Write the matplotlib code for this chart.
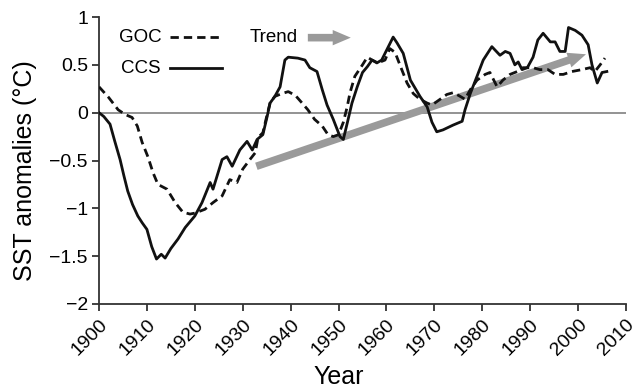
import matplotlib
matplotlib.use("Agg")
import matplotlib.pyplot as plt
from matplotlib.patches import FancyArrowPatch

plt.rcParams['font.family'] = ['Liberation Sans', 'DejaVu Sans']

# CCS (solid) anomaly record
ccs_years = [1900, 1901, 1902.3, 1903.3, 1904.4, 1905.2, 1906, 1907, 1908.1, 1909,
             1910, 1911, 1912, 1913, 1913.8, 1915, 1916.5, 1918, 1920, 1921.5,
             1923.2, 1923.8, 1925.7, 1926.7, 1927.8, 1929.4, 1930.9, 1932, 1933, 1934.2,
             1935.1, 1935.7, 1936.7, 1937.8, 1938.8, 1939.5, 1941.5, 1943, 1944, 1945.5,
             1946.6, 1947.6, 1948.9, 1950.3, 1951, 1952, 1952.8, 1953.9, 1955, 1956,
             1957, 1958, 1959, 1959.7, 1961.4, 1962.2, 1963.5, 1965, 1967, 1968.5,
             1969.5, 1970.5, 1971.8, 1973.9, 1975.8, 1976.4, 1977.5, 1978.9, 1980.2, 1982,
             1983.7, 1984.8, 1985.8, 1986.8, 1987.5, 1988.3, 1989.4, 1990.6, 1991.6, 1992.7,
             1994.2, 1995.2, 1996.2, 1997.3, 1998, 1999.4, 2000.8, 2002.1, 2002.9, 2004,
             2005, 2006]
ccs_vals = [0.0, -0.04, -0.12, -0.3, -0.49, -0.66, -0.82, -0.96, -1.08, -1.15,
            -1.22, -1.4, -1.53, -1.48, -1.52, -1.42, -1.32, -1.2, -1.08, -0.94,
            -0.73, -0.80, -0.49, -0.46, -0.56, -0.39, -0.30, -0.39, -0.28, -0.23,
            -0.04, 0.10, 0.17, 0.27, 0.55, 0.58, 0.57, 0.55, 0.47, 0.43,
            0.24, 0.08, -0.07, -0.25, -0.28, -0.07, 0.10, 0.27, 0.42, 0.48,
            0.55, 0.52, 0.55, 0.62, 0.79, 0.73, 0.62, 0.34, 0.17, 0.06,
            -0.10, -0.20, -0.18, -0.13, -0.09, 0.03, 0.20, 0.38, 0.55, 0.69,
            0.60, 0.64, 0.62, 0.50, 0.53, 0.45, 0.47, 0.58, 0.76, 0.83,
            0.74, 0.74, 0.64, 0.64, 0.89, 0.86, 0.81, 0.71, 0.50, 0.31,
            0.42, 0.43]

# GOC (dashed) anomaly record
goc_years = [1900, 1902, 1904, 1905.5, 1906.9, 1908, 1909, 1910.2, 1911.3, 1912.3,
             1914.2, 1915.9, 1917.5, 1919, 1920, 1922.1, 1923.8, 1925.7, 1927.3, 1928.8,
             1930, 1931.5, 1932.6, 1933.2, 1934.2, 1935, 1935.7, 1936.7, 1938.2, 1939.5,
             1941, 1942.4, 1943.6, 1945, 1946.6, 1947.8, 1948.9, 1950, 1951, 1951.8,
             1952.4, 1953.4, 1955, 1956, 1957, 1958.2, 1959.7, 1960.7, 1961.8, 1962.8,
             1964.3, 1965.6, 1967, 1968.5, 1969.5, 1971.2, 1972.6, 1974, 1975.4, 1976.4,
             1977.5, 1978.9, 1980.6, 1981.6, 1983.1, 1984.3, 1985.8, 1987.3, 1988.5, 1990.6,
             1992, 1993.7, 1995.2, 1996.9, 1998.7, 2000.8, 2002.5, 2003.5, 2004.6, 2005.6]
goc_vals = [0.27, 0.16, 0.03, -0.02, -0.05, -0.14, -0.31, -0.46, -0.63, -0.75,
            -0.80, -0.94, -1.04, -1.06, -1.05, -1.01, -0.94, -0.87, -0.70, -0.73,
            -0.59, -0.49, -0.42, -0.26, -0.21, -0.04, 0.10, 0.17, 0.20, 0.22,
            0.18, 0.10, 0.03, -0.07, -0.14, -0.23, -0.25, -0.23, -0.10, 0.06,
            0.21, 0.38, 0.50, 0.58, 0.55, 0.52, 0.55, 0.67, 0.63, 0.50,
            0.31, 0.20, 0.14, 0.10, 0.08, 0.14, 0.19, 0.21, 0.17, 0.14,
            0.24, 0.34, 0.40, 0.42, 0.27, 0.34, 0.40, 0.43, 0.47, 0.47,
            0.45, 0.45, 0.40, 0.40, 0.43, 0.45, 0.47, 0.43, 0.50, 0.57]

# trend arrow endpoints (year, anomaly)
trend_start = (1932.3, -0.57)
trend_end = (2002.2, 0.62)

xticks = list(range(1900, 2011, 10))
yticks = [-2, -1.5, -1, -0.5, 0, 0.5, 1]
ytick_labels = ['\u22122', '\u22121.5', '\u22121', '\u22120.5', '0', '0.5', '1']

grey = '#9a9a9a'
ink = '#111111'
arrow_style = 'simple,head_length=1.0,head_width=0.85,tail_width=0.42'

fig = plt.figure(figsize=(6.39, 3.90), dpi=100)
ax = fig.add_axes([99 / 639, 1 - 304 / 390, 527 / 639, 287 / 390])

ax.axhline(0, color='#8a8a8a', lw=1.3, zorder=1)

ax.add_patch(FancyArrowPatch(trend_start, trend_end, arrowstyle=arrow_style,
                             mutation_scale=13, color=grey, lw=0, zorder=2))

ax.plot(goc_years, goc_vals, color=ink, lw=2.0, dashes=(3.0, 1.8), zorder=3)
ax.plot(ccs_years, ccs_vals, color=ink, lw=2.0, zorder=4)

ax.set_xlim(1900, 2010)
ax.set_ylim(-2, 1)
ax.set_xticks(xticks)
ax.set_xticklabels([str(t) for t in xticks], rotation=45, ha='right',
                   va='top', rotation_mode='anchor')
ax.set_yticks(yticks)
ax.set_yticklabels(ytick_labels)
ax.tick_params(axis='both', labelsize=14, length=5, width=1.3,
               color='#333333', direction='out')
ax.tick_params(axis='x', pad=4)
ax.tick_params(axis='y', pad=3)
for s in ['top', 'right']:
    ax.spines[s].set_visible(False)
for s in ['left', 'bottom']:
    ax.spines[s].set_linewidth(1.3)
    ax.spines[s].set_color('#333333')

# legend drawn by hand: label first, line sample after it
tr = ax.transAxes
ax.text(0.1195, 0.930, 'GOC', transform=tr, ha='right', va='center', fontsize=13.5)
ax.text(0.1175, 0.822, 'CCS', transform=tr, ha='right', va='center', fontsize=13.5)
ax.plot([0.135, 0.233], [0.930, 0.930], transform=tr, color=ink, lw=2.0, dashes=(3.0, 1.8))
ax.plot([0.135, 0.233], [0.822, 0.822], transform=tr, color=ink, lw=2.0)
ax.text(0.378, 0.930, 'Trend', transform=tr, ha='right', va='center', fontsize=13.5)
ax.add_patch(FancyArrowPatch((0.391, 0.928), (0.483, 0.928), transform=tr,
                             arrowstyle=arrow_style, mutation_scale=13, color=grey, lw=0))

fig.text(339 / 639, 1 - 384 / 390, 'Year', ha='center', va='baseline', fontsize=18)
fig.text(25 / 639, 1 - 171 / 390, 'SST anomalies (\u00b0C)', rotation=90,
         ha='center', va='center', fontsize=18)

fig.savefig('out.png', dpi=100)
